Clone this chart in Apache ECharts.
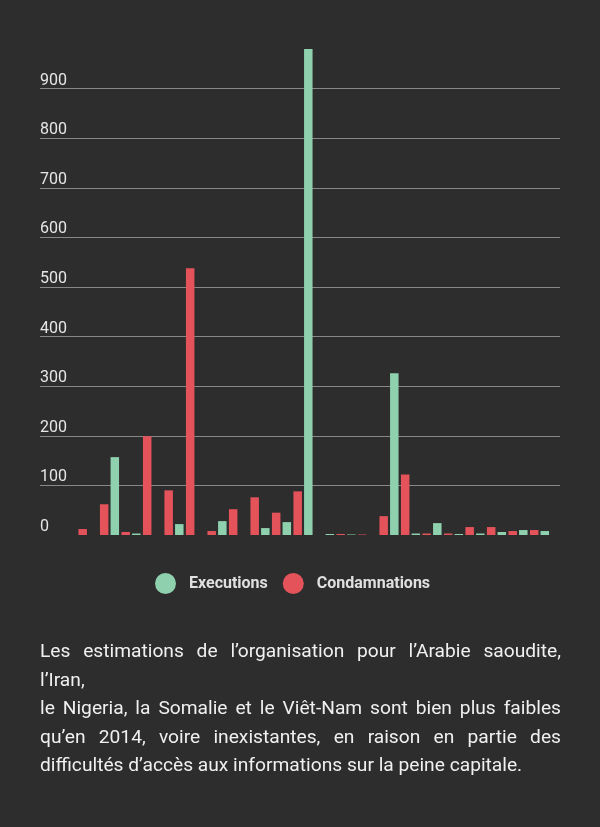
<!DOCTYPE html>
<html>
<head>
<meta charset="utf-8">
<script src="https://cdn.jsdelivr.net/npm/echarts@6/dist/echarts.min.js"></script>
<style>
  html, body { margin: 0; padding: 0; background: #2d2d2d; }
  #wrap { position: relative; width: 600px; height: 827px; background: #2d2d2d; overflow: hidden; }
  #chart { position: absolute; left: 0; top: 0; width: 600px; height: 827px; }
  #caption { position: absolute; left: 40px; top: 637px; width: 521px; font-family: Roboto, sans-serif; font-size: 19.2px; line-height: 28.5px; color: #f0f0f0; }
  #caption div { white-space: nowrap; }
  #caption .j { text-align: justify; text-align-last: justify; white-space: normal; }
</style>
</head>
<body>
<div id="wrap">
  <div id="chart"></div>
  <div id="caption">
    <div class="j">Les estimations de l’organisation pour l’Arabie saoudite,</div>
    <div>l’Iran,</div>
    <div class="j">le Nigeria, la Somalie et le Viêt-Nam sont bien plus faibles</div>
    <div class="j">qu’en 2014, voire inexistantes, en raison en partie des</div>
    <div>difficultés d’accès aux informations sur la peine capitale.</div>
  </div>
</div>
<script>
const categories = ["Pays 1","Pays 2","Pays 3","Pays 4","Pays 5","Pays 6","Pays 7","Pays 8","Pays 9","Pays 10","Pays 11","Pays 12","Pays 13","Pays 14","Pays 15","Pays 16","Pays 17","Pays 18","Pays 19","Pays 20","Pays 21","Pays 22","Pays 23","Pays 24"];
const executions   = [0, 0, 0, 157, 3, 0, 22, 0, 28, 0, 14, 26, 980, 2, 1, 0, 326, 3, 24, 2, 3, 6, 10, 8];
const condamnations = [0, 12, 62, 6, 199, 90, 538, 8, 52, 76, 45, 88, 0, 2, 1, 38, 122, 3, 3, 16, 16, 8, 10, 0];
const yTicks = { min: 0, max: 1000, interval: 100 };

const GREEN = '#8fd0ae';
const RED = '#e4525a';

const chart = echarts.init(document.getElementById('chart'), null, { renderer: 'canvas' });
chart.setOption({
  backgroundColor: '#2d2d2d',
  animation: false,
  legend: {
    data: ['Executions', 'Condamnations'],
    left: 150,
    top: 568,
    icon: 'circle',
    itemWidth: 21,
    itemHeight: 21,
    itemGap: 15,
    textStyle: { color: '#e0e0e0', fontFamily: 'Roboto', fontSize: 16, fontWeight: 'bold', padding: [0, 0, 0, 8] }
  },
  grid: [
    { left: 40, right: 40, top: 39, bottom: 292 },
    { left: 45, right: 39, top: 39, bottom: 292 }
  ],
  xAxis: [
    { gridIndex: 0, type: 'category', data: categories, show: false },
    { gridIndex: 1, type: 'category', data: categories,
      axisLine: { show: false }, axisTick: { show: false }, axisLabel: { show: false } }
  ],
  yAxis: [
    { gridIndex: 0, type: 'value', min: yTicks.min, max: yTicks.max, interval: yTicks.interval,
      axisLine: { show: false }, axisTick: { show: false },
      splitLine: { show: true, showMinLine: false, showMaxLine: false, lineStyle: { color: '#888888', width: 1 } },
      axisLabel: { inside: true, margin: 0, showMaxLabel: false, color: '#e6e6e6', fontFamily: 'Roboto', fontSize: 16,
                   verticalAlign: 'bottom', lineHeight: 16, padding: [0, 0, 0, 0] } },
    { gridIndex: 1, type: 'value', min: yTicks.min, max: yTicks.max, interval: yTicks.interval, show: false,
      splitLine: { show: false } }
  ],
  series: [
    { name: 'Executions', type: 'bar', xAxisIndex: 1, yAxisIndex: 1, data: executions,
      itemStyle: { color: GREEN }, barWidth: 8.5, barGap: '28%' },
    { name: 'Condamnations', type: 'bar', xAxisIndex: 1, yAxisIndex: 1, data: condamnations,
      itemStyle: { color: RED }, barWidth: 8.5, barGap: '28%' }
  ]
});
</script>
</body>
</html>
